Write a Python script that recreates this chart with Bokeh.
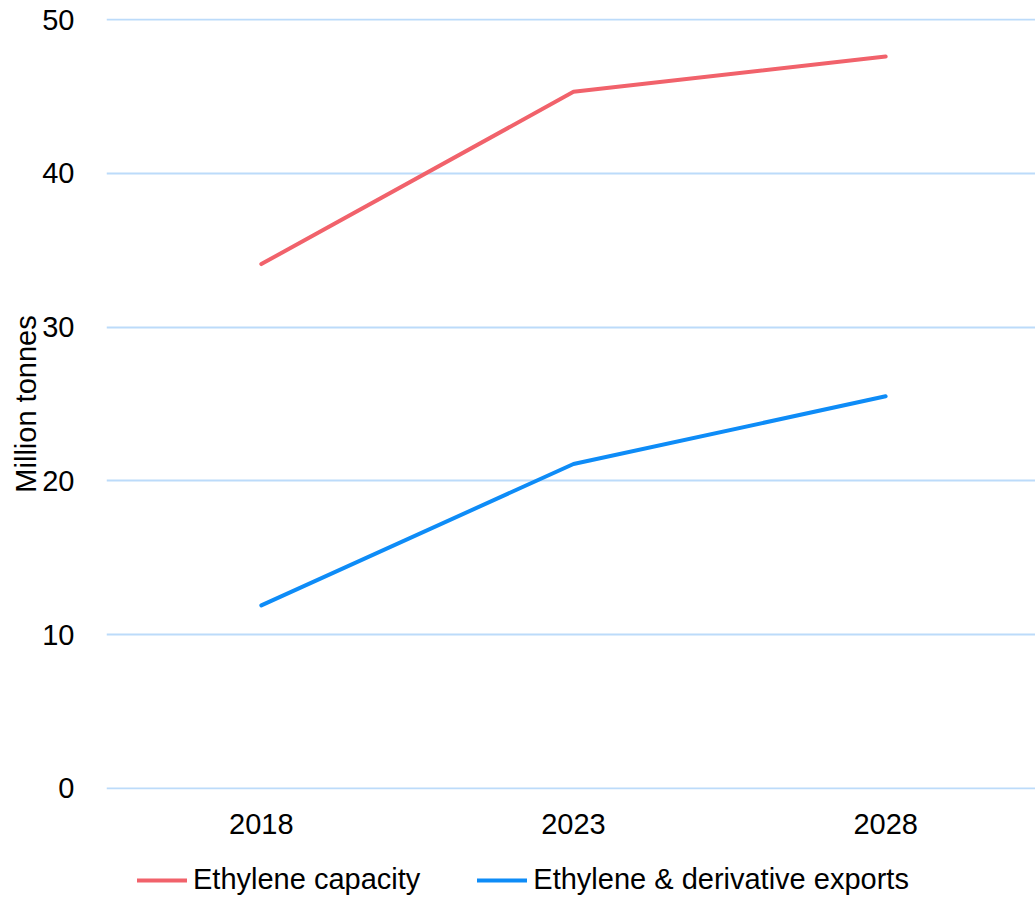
from bokeh.plotting import figure
from bokeh.layouts import column
from bokeh.models import Range1d, FixedTicker, Legend, LegendItem
from bokeh.embed import file_html
from bokeh.resources import INLINE

# Data
years = [2018, 2023, 2028]
ethylene_capacity = [34.1, 45.3, 47.6]
ethylene_exports = [11.9, 21.1, 25.5]
y_ticks = [0, 10, 20, 30, 40, 50]
series_labels = ["Ethylene capacity", "Ethylene & derivative exports"]

FONT = "Liberation Sans"
FS = "29px"
RED = "#F1626B"
BLUE = "#0E8CF7"
GRID = "#BCDBFA"
W = 1035
LEGEND_H = 52
MAIN_H = 897 - LEGEND_H

p = figure(
    width=W, height=MAIN_H,
    output_backend="svg", toolbar_location=None,
    x_range=Range1d(2015.52, 2030.40), y_range=Range1d(-0.07, 50.07),
    min_border_left=106, min_border_right=0, min_border_top=18,
    min_border_bottom=MAIN_H - 789,
)
p.outline_line_color = None
p.background_fill_color = "white"
p.border_fill_color = "white"

p.line(years, ethylene_capacity, line_color=RED, line_width=4, line_cap="round")
p.line(years, ethylene_exports, line_color=BLUE, line_width=4, line_cap="round")

# Axes
p.xaxis.ticker = FixedTicker(ticks=years)
p.yaxis.ticker = FixedTicker(ticks=y_ticks)
for ax in (p.xaxis[0], p.yaxis[0]):
    ax.axis_line_color = None
    ax.major_tick_line_color = None
    ax.minor_tick_line_color = None
    ax.major_label_text_font = FONT
    ax.major_label_text_font_size = FS
    ax.major_label_text_color = "black"
p.yaxis.major_label_standoff = 26
p.xaxis.major_label_standoff = 18
p.yaxis.axis_label = "Million tonnes"
p.yaxis.axis_label_text_font = FONT
p.yaxis.axis_label_text_font_size = FS
p.yaxis.axis_label_text_font_style = "normal"
p.yaxis.axis_label_text_color = "black"
p.yaxis.axis_label_standoff = -3

# Grid
p.xgrid.grid_line_color = None
p.ygrid.grid_line_color = GRID
p.ygrid.grid_line_width = 2

# Legend strip under the chart
leg = figure(
    width=W, height=LEGEND_H,
    output_backend="svg", toolbar_location=None,
    x_range=Range1d(0, 1), y_range=Range1d(1000, 1001),
    x_axis_location=None, y_axis_location=None,
    min_border_left=0, min_border_right=0, min_border_top=0, min_border_bottom=0,
)
leg.outline_line_color = None
leg.xgrid.grid_line_color = None
leg.ygrid.grid_line_color = None
k1 = leg.line(years, ethylene_capacity, line_color=RED, line_width=4, line_cap="round")
k2 = leg.line(years, ethylene_exports, line_color=BLUE, line_width=4, line_cap="round")

legend = Legend(
    items=[LegendItem(label=series_labels[0], renderers=[k1]),
           LegendItem(label=series_labels[1], renderers=[k2])],
    orientation="horizontal",
    location=(31, 1),
    glyph_width=50, glyph_height=20,
    label_text_font=FONT, label_text_font_size=FS, label_text_color="black",
    label_standoff=6, spacing=57, padding=0, margin=0,
    border_line_color=None, background_fill_alpha=0,
)
leg.add_layout(legend, "center")

layout = column(p, leg, spacing=0)
open("out.html", "w").write(file_html(layout, INLINE))
